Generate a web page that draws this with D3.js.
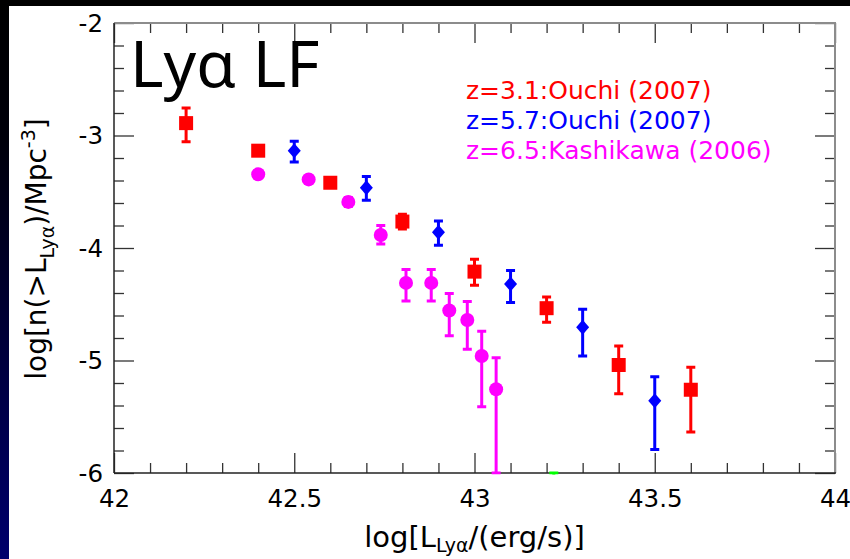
<!DOCTYPE html>
<html>
<head>
<meta charset="utf-8">
<script src="https://cdn.jsdelivr.net/npm/d3@7"></script>
<style>
  html, body { margin: 0; padding: 0; background: #fff; }
  svg { display: block; }
</style>
</head>
<body>
<svg id="chart" width="850" height="559"></svg>
<script>
// Lyman-alpha cumulative luminosity functions
const z31X  = [42.2, 42.4, 42.6, 42.8, 43.0, 43.2, 43.4, 43.6];
const z31Y  = [-2.89, -3.135, -3.42, -3.765, -4.21, -4.535, -5.04, -5.26];
const z31Hi = [-2.755, -3.105, -3.39, -3.70, -4.10, -4.435, -4.87, -5.06];
const z31Lo = [-3.055, -3.165, -3.45, -3.83, -4.33, -4.66, -5.295, -5.635];

const z57X  = [42.5, 42.7, 42.9, 43.1, 43.3, 43.5];
const z57Y  = [-3.135, -3.465, -3.86, -4.32, -4.705, -5.357];
const z57Hi = [-3.05, -3.365, -3.76, -4.20, -4.545, -5.145];
const z57Lo = [-3.235, -3.575, -3.975, -4.485, -4.96, -5.79];

const z65X  = [42.4, 42.54, 42.65, 42.74, 42.81, 42.88, 42.93, 42.98, 43.02, 43.06];
const z65Y  = [-3.345, -3.39, -3.59, -3.885, -4.31, -4.31, -4.555, -4.64, -4.96, -5.255];
const z65Hi = [-3.325, -3.37, -3.55, -3.80, -4.19, -4.19, -4.405, -4.475, -4.74, -4.975];
const z65Lo = [-3.365, -3.41, -3.63, -3.965, -4.47, -4.47, -4.78, -4.90, -5.41, -6.0];

const extraX  = [43.22];
const extraY  = [-6.25];
const extraHi = [-6.0];
const extraLo = [-6.5];

const xMajor = [42, 42.5, 43, 43.5, 44];
const xLabels = ["42", "42.5", "43", "43.5", "44"];
const yMajor = [-2, -3, -4, -5, -6];
const yLabels = ["-2", "-3", "-4", "-5", "-6"];
const legendLabels = ["z=3.1:Ouchi (2007)", "z=5.7:Ouchi (2007)", "z=6.5:Kashikawa (2006)"];

const W = 850, H = 559;
const plot = { left: 114, right: 835, top: 23, bottom: 473 };
const FONT = "'DejaVu Sans', sans-serif";

const svg = d3.select("#chart");

// slide background: dark bar across the top, blue strip on the left
const defs = svg.append("defs");
const grad = defs.append("linearGradient").attr("id", "strip")
  .attr("x1", 0).attr("y1", 0).attr("x2", 0).attr("y2", 1);
grad.append("stop").attr("offset", "0").attr("stop-color", "#000000");
grad.append("stop").attr("offset", "0.25").attr("stop-color", "#00000a");
grad.append("stop").attr("offset", "1").attr("stop-color", "#00006c");
svg.append("rect").attr("width", W).attr("height", H).attr("fill", "#fff");
svg.append("rect").attr("x", 0).attr("y", 0).attr("width", 9).attr("height", H).attr("fill", "url(#strip)");
svg.append("rect").attr("x", 0).attr("y", 0).attr("width", W).attr("height", 6).attr("fill", "#000");

defs.append("clipPath").attr("id", "plotClip").append("rect")
  .attr("x", plot.left).attr("y", plot.top - 2)
  .attr("width", plot.right - plot.left).attr("height", plot.bottom - plot.top + 3.5);

const x = d3.scaleLinear().domain([42, 44]).range([plot.left, plot.right]);
const y = d3.scaleLinear().domain([-6, -2]).range([plot.bottom, plot.top]);

const xMinor = d3.range(0, 21).map(i => 42 + i * 0.1).filter(v => !xMajor.some(m => Math.abs(m - v) < 1e-6));
const yMinor = d3.range(0, 21).map(i => -6 + i * 0.2).filter(v => !yMajor.some(m => Math.abs(m - v) < 1e-6));

function styleTicks(g, color) {
  g.selectAll(".tick line").attr("stroke", color).attr("stroke-width", 1.3);
  g.select(".domain").remove();
}

// bottom axis
const gB = svg.append("g").attr("transform", `translate(0,${plot.bottom})`);
gB.append("g").call(d3.axisBottom(x).tickValues(xMinor).tickSize(-10).tickFormat("")).call(g => styleTicks(g, "#333"));
const gBM = gB.append("g").call(d3.axisBottom(x).tickValues(xMajor).tickSize(-20)
  .tickFormat((d, i) => xLabels[i]).tickPadding(0));
styleTicks(gBM, "#333");
gBM.selectAll(".tick text").attr("y", 34).attr("dy", 0)
  .attr("font-family", FONT).attr("font-size", 24.5).attr("fill", "#000");

// top axis
const gT = svg.append("g").attr("transform", `translate(0,${plot.top})`);
gT.append("g").call(d3.axisTop(x).tickValues(xMinor).tickSize(-10).tickFormat("")).call(g => styleTicks(g, "#333"));
gT.append("g").call(d3.axisTop(x).tickValues(xMajor).tickSize(-20).tickFormat("")).call(g => styleTicks(g, "#333"));

// left axis
const gL = svg.append("g").attr("transform", `translate(${plot.left},0)`);
gL.append("g").call(d3.axisLeft(y).tickValues(yMinor).tickSize(-10).tickFormat("")).call(g => styleTicks(g, "#333"));
const gLM = gL.append("g").call(d3.axisLeft(y).tickValues(yMajor).tickSize(-20)
  .tickFormat((d, i) => yLabels[i]).tickPadding(0));
styleTicks(gLM, "#333");
gLM.selectAll(".tick text").attr("x", -11).attr("dy", "0.33em")
  .attr("font-family", FONT).attr("font-size", 24.5).attr("fill", "#000");

// right axis
const gR = svg.append("g").attr("transform", `translate(${plot.right},0)`);
gR.append("g").call(d3.axisRight(y).tickValues(yMinor).tickSize(-10).tickFormat("")).call(g => styleTicks(g, "#333"));
gR.append("g").call(d3.axisRight(y).tickValues(yMajor).tickSize(-20).tickFormat("")).call(g => styleTicks(g, "#333"));

// frame: dark left/bottom, grey top/right
svg.append("line").attr("x1", plot.left).attr("x2", plot.right).attr("y1", plot.top).attr("y2", plot.top)
  .attr("stroke", "#8c8c8c").attr("stroke-width", 2);
svg.append("line").attr("x1", plot.right).attr("x2", plot.right).attr("y1", plot.top - 1).attr("y2", plot.bottom)
  .attr("stroke", "#8c8c8c").attr("stroke-width", 2);
svg.append("line").attr("x1", plot.left).attr("x2", plot.left).attr("y1", plot.top).attr("y2", plot.bottom)
  .attr("stroke", "#222").attr("stroke-width", 1.5);
svg.append("line").attr("x1", plot.left).attr("x2", plot.right + 1).attr("y1", plot.bottom).attr("y2", plot.bottom)
  .attr("stroke", "#222").attr("stroke-width", 1.5);

// data series
const series = [
  { xs: z31X, ys: z31Y, hi: z31Hi, lo: z31Lo, color: "#ff0000", shape: "square" },
  { xs: z57X, ys: z57Y, hi: z57Hi, lo: z57Lo, color: "#0000ff", shape: "diamond" },
  { xs: z65X, ys: z65Y, hi: z65Hi, lo: z65Lo, color: "#ff00ff", shape: "circle" },
  { xs: extraX, ys: extraY, hi: extraHi, lo: extraLo, color: "#00ff00", shape: "circle" }
];

const dataG = svg.append("g").attr("clip-path", "url(#plotClip)");
const capHalf = 4.5;

series.forEach(s => {
  const pts = s.xs.map((v, i) => ({ x: v, y: s.ys[i], hi: s.hi[i], lo: s.lo[i] }));
  const g = dataG.append("g");
  // error bars
  g.selectAll("line.bar").data(pts).join("line").attr("class", "bar")
    .attr("x1", d => x(d.x)).attr("x2", d => x(d.x))
    .attr("y1", d => y(d.hi)).attr("y2", d => y(d.lo))
    .attr("stroke", s.color).attr("stroke-width", 3);
  g.selectAll("line.capHi").data(pts).join("line").attr("class", "capHi")
    .attr("x1", d => x(d.x) - capHalf).attr("x2", d => x(d.x) + capHalf)
    .attr("y1", d => y(d.hi)).attr("y2", d => y(d.hi))
    .attr("stroke", s.color).attr("stroke-width", 3);
  g.selectAll("line.capLo").data(pts).join("line").attr("class", "capLo")
    .attr("x1", d => x(d.x) - capHalf).attr("x2", d => x(d.x) + capHalf)
    .attr("y1", d => y(d.lo)).attr("y2", d => y(d.lo))
    .attr("stroke", s.color).attr("stroke-width", 3);
  // markers
  if (s.shape === "square") {
    g.selectAll("rect.m").data(pts).join("rect").attr("class", "m")
      .attr("x", d => x(d.x) - 7).attr("y", d => y(d.y) - 7)
      .attr("width", 14).attr("height", 14).attr("fill", s.color);
  } else if (s.shape === "diamond") {
    g.selectAll("path.m").data(pts).join("path").attr("class", "m")
      .attr("d", d => { const cx = x(d.x), cy = y(d.y);
        return `M${cx},${cy - 7.5}L${cx + 6.5},${cy}L${cx},${cy + 7.5}L${cx - 6.5},${cy}Z`; })
      .attr("fill", s.color);
  } else {
    g.selectAll("circle.m").data(pts).join("circle").attr("class", "m")
      .attr("cx", d => x(d.x)).attr("cy", d => y(d.y)).attr("r", 7).attr("fill", s.color);
  }
});

// panel title
svg.append("text").attr("x", 130).attr("y", 87)
  .attr("font-family", "'Noto Sans', sans-serif").attr("font-size", 64).attr("fill", "#000")
  .text("Lyα LF");

// legend
const legColors = ["#ff0000", "#0000ff", "#ff00ff"];
svg.append("g").selectAll("text").data(legendLabels).join("text")
  .attr("x", 466).attr("y", (d, i) => 99 + i * 30.2)
  .attr("font-family", FONT).attr("font-size", 25)
  .attr("fill", (d, i) => legColors[i]).text(d => d);

// axis titles
const xt = svg.append("text").attr("x", (plot.left + plot.right) / 2).attr("y", 547)
  .attr("text-anchor", "middle").attr("font-family", FONT).attr("font-size", 29).attr("fill", "#000");
xt.append("tspan").text("log[L");
xt.append("tspan").attr("dy", 5).attr("font-size", 19).text("Lyα");
xt.append("tspan").attr("dy", -5).text("/(erg/s)]");

const yt = svg.append("text").attr("transform", "translate(46,249) rotate(-90)")
  .attr("text-anchor", "middle").attr("font-family", FONT).attr("font-size", 28).attr("fill", "#000");
yt.append("tspan").text("log[n(>L");
yt.append("tspan").attr("dy", 8).attr("font-size", 19).text("Lyα");
yt.append("tspan").attr("dy", -8).text(")/Mpc");
yt.append("tspan").attr("dy", -11).attr("font-size", 19).text("-3");
yt.append("tspan").attr("dy", 11).text("]");
</script>
</body>
</html>
